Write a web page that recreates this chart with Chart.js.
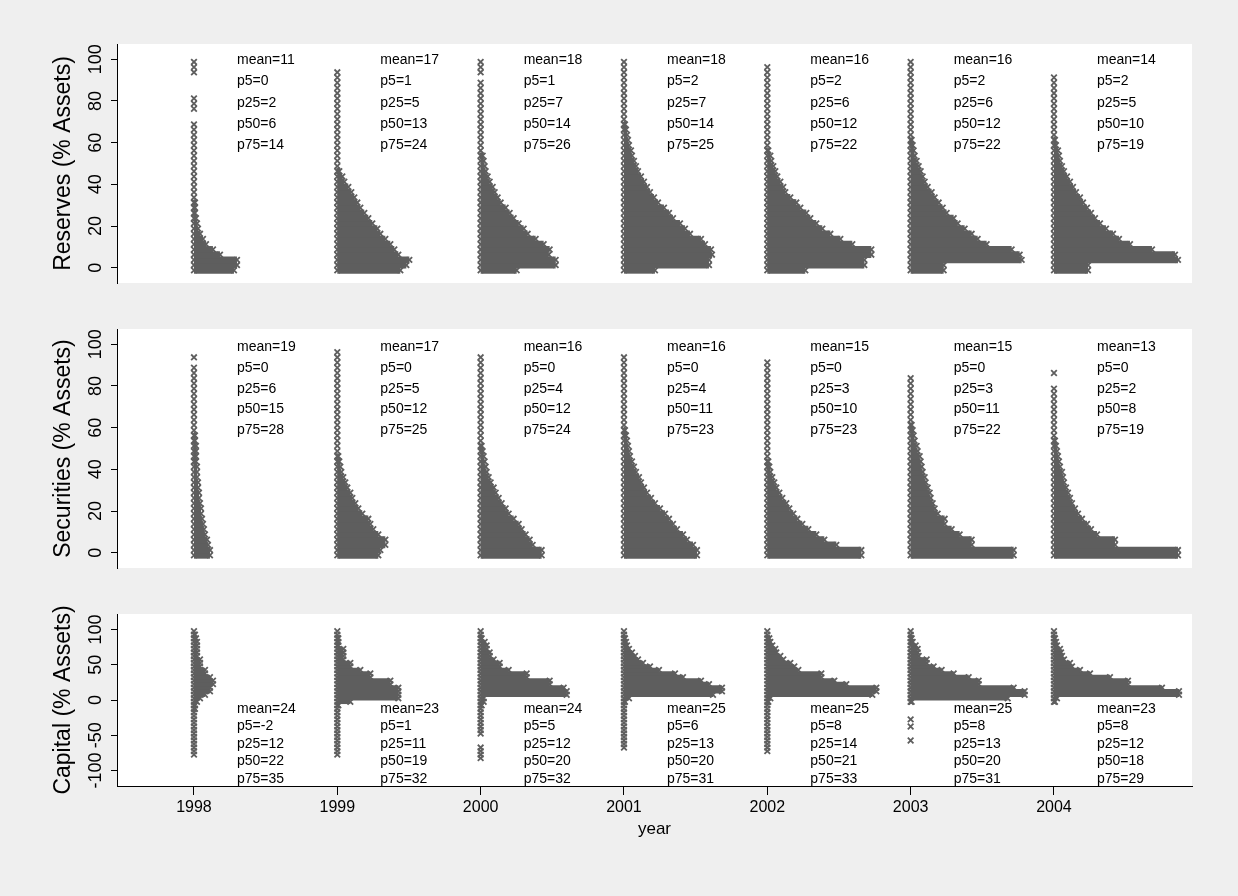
<!DOCTYPE html>
<html>
<head>
<meta charset="utf-8">
<script src="https://cdn.jsdelivr.net/npm/chart.js@4/dist/chart.umd.min.js"></script>
<style>
  body { margin: 0; background: #efefef; }
  canvas { position: absolute; left: 0; }
</style>
</head>
<body>
<canvas id="reserves" width="1238" height="300" style="top:0"></canvas>
<canvas id="securities" width="1238" height="285" style="top:300px"></canvas>
<canvas id="capital" width="1238" height="311" style="top:585px"></canvas>
<script>
const _ = null;

const years = [1998, 1999, 2000, 2001, 2002, 2003, 2004];

// bin centres (% of assets)
const pctBins = [-1.25, 1.25, 3.75, 6.25, 8.75, 11.25, 13.75, 16.25, 18.75, 21.25, 23.75, 26.25, 28.75, 31.25,
  33.75, 36.25, 38.75, 41.25, 43.75, 46.25, 48.75, 51.25, 53.75, 56.25, 58.75, 61.25, 63.75, 66.25, 68.75,
  71.25, 73.75, 76.25, 78.75, 81.25, 83.75, 86.25, 88.75, 91.25, 93.75, 96.25, 98.75];
const capBins = [-87.5, -82.5, -77.5, -72.5, -67.5, -62.5, -57.5, -52.5, -47.5, -42.5, -37.5, -32.5, -27.5,
  -22.5, -17.5, -12.5, -7.5, -2.5, 2.5, 7.5, 12.5, 17.5, 22.5, 27.5, 32.5, 37.5, 42.5, 47.5, 52.5, 57.5,
  62.5, 67.5, 72.5, 77.5, 82.5, 87.5, 92.5, 97.5];

const pctTicks = [0, 20, 40, 60, 80, 100];
const capTicks = [-100, -50, 0, 50, 100];

// dot widths per bin (1/143 of a year slot), null = empty bin
const reserves = [
  [43,46,46,29,22,15,12,9,7,6,5,4,4,4,3,3,3,3,3,3,2,2,2,2,2,2,2,2,2,_,_,2,2,2,_,_,_,_,2,2,2],
  [66,72,75,64,60,56,51,46,43,38,34,30,26,23,20,17,14,10,8,5,3,3,3,3,3,3,3,3,3,2,2,2,2,2,2,2,2,2,2,_,_],
  [39,78,78,71,72,66,58,50,46,41,36,32,28,23,20,17,15,12,10,8,7,6,5,3,3,3,3,3,3,3,2,2,2,2,2,2,2,_,2,2,2],
  [34,88,88,91,90,84,80,69,64,59,52,48,43,37,33,29,26,23,20,17,15,13,11,10,8,7,6,5,4,3,3,3,3,3,3,2,2,2,2,2,2],
  [41,100,100,107,107,88,76,66,58,52,46,42,36,32,26,21,19,16,13,11,9,7,6,4,3,3,3,3,3,3,3,3,2,2,2,2,2,2,2,2,_],
  [36,36,114,112,104,79,70,64,57,50,46,39,35,31,27,24,20,17,15,13,11,9,7,6,5,4,3,3,3,3,3,3,3,2,2,2,2,2,2,2,2],
  [37,37,127,124,101,79,68,62,55,49,44,40,36,32,29,25,22,19,16,13,11,9,8,7,5,4,3,3,3,3,3,3,2,2,2,2,2,2,_,_,_]
];
const securities = [
  [19,19,17,16,14,13,12,11,10,10,9,8,8,7,7,6,6,6,5,5,5,5,4,4,3,3,3,3,3,3,3,2,2,2,2,2,2,_,2,_,_],
  [44,46,51,51,44,39,36,34,28,24,21,18,16,13,11,9,7,6,5,4,3,3,3,3,3,3,3,3,3,3,2,2,2,2,2,2,2,2,2,2,_],
  [64,64,55,52,48,44,41,36,31,28,24,21,18,16,13,11,9,8,7,6,5,4,3,3,3,3,3,3,3,3,3,2,2,2,2,2,2,2,2,_,_],
  [76,76,72,66,62,56,52,48,44,39,34,30,26,23,20,18,15,13,11,9,8,7,6,5,4,3,3,3,3,3,3,3,2,2,2,2,2,2,2,_,_],
  [97,97,72,60,52,44,38,33,29,25,22,18,15,12,10,8,6,5,4,3,3,3,3,3,3,3,3,3,3,2,2,2,2,2,2,2,2,2,_,_,_],
  [106,106,64,64,52,44,37,37,30,27,25,23,22,20,18,17,15,14,13,12,10,9,7,6,5,4,3,3,3,3,3,2,2,2,2,_,_,_,_,_,_],
  [127,127,64,64,46,40,36,31,27,24,21,19,17,15,13,12,11,9,8,7,6,5,4,3,3,3,3,3,3,3,2,2,2,_,_,2,_,_,_,_,_]
];
const capital = [
  [_,_,2,2,2,2,2,2,2,3,3,3,3,3,3,4,4,6,9,14,19,19,22,22,19,14,14,9,9,9,6,6,6,6,6,5,4,3],
  [_,_,3,3,3,3,3,3,3,3,3,3,3,3,3,3,4,16,64,64,64,64,56,56,36,36,26,16,16,9,9,9,9,4,4,4,3,3],
  [_,2,2,2,2,_,_,_,2,2,2,2,2,3,3,3,4,6,6,89,89,86,72,72,49,49,31,22,22,16,12,12,9,9,7,4,3,3],
  [_,_,_,_,3,3,3,3,3,3,3,3,3,3,3,3,3,4,8,92,101,101,88,80,62,54,38,29,22,17,14,11,8,6,5,4,3,3],
  [_,_,_,3,3,3,3,3,3,3,3,3,3,3,3,3,3,4,6,108,112,112,82,70,57,57,34,30,26,19,16,12,11,8,6,5,3,3],
  [_,_,_,_,_,_,2,_,_,_,2,_,2,_,_,_,_,4,100,117,117,106,71,71,61,46,34,26,19,19,11,10,10,8,5,4,3,3],
  [_,_,_,_,_,_,_,_,_,_,_,_,_,_,_,_,_,4,6,128,128,111,77,77,59,39,29,21,19,13,11,10,9,6,5,4,3,3]
];

const resMean = [11, 17, 18, 18, 16, 16, 14];
const resP5 = [0, 1, 1, 2, 2, 2, 2];
const resP25 = [2, 5, 7, 7, 6, 6, 5];
const resP50 = [6, 13, 14, 14, 12, 12, 10];
const resP75 = [14, 24, 26, 25, 22, 22, 19];

const secMean = [19, 17, 16, 16, 15, 15, 13];
const secP5 = [0, 0, 0, 0, 0, 0, 0];
const secP25 = [6, 5, 4, 4, 3, 3, 2];
const secP50 = [15, 12, 12, 11, 10, 11, 8];
const secP75 = [28, 25, 24, 23, 23, 22, 19];

const capMean = [24, 23, 24, 25, 25, 25, 23];
const capP5 = [-2, 1, 5, 6, 8, 8, 8];
const capP25 = [12, 11, 12, 13, 14, 13, 12];
const capP50 = [22, 19, 20, 20, 21, 20, 18];
const capP75 = [35, 32, 32, 31, 33, 31, 29];

const FONT = '"Liberation Sans", Arial, Helvetica, sans-serif';
const gray = '#5e5e5e';
const xPerYear = 143.33;
const xMin = 1997.463, xMax = 2004.963;

Chart.defaults.font.family = FONT;
Chart.defaults.color = '#000';

// dot plot: markers stacked at the year, bar out to the last marker
function buildData(bins, widths) {
  const bars = [], marks = [];
  years.forEach((yr, i) => {
    widths[i].forEach((w, k) => {
      if (w === null) return;
      const y = bins[k];
      const end = yr + Math.max(w - 3, 0) / xPerYear;
      marks.push({ x: yr, y: y });
      if (end > yr) {
        bars.push({ x: [yr, end], y: y });
        marks.push({ x: end, y: y });
      }
    });
  });
  return { bars, marks };
}

const whitePlot = {
  id: 'whitePlot',
  beforeDraw(chart) {
    const { ctx, chartArea: a } = chart;
    ctx.save();
    ctx.fillStyle = '#fff';
    ctx.fillRect(a.left, a.top, a.right - a.left, a.bottom - a.top);
    ctx.restore();
  }
};

// vertical tick labels on the y axis
const yLabels = {
  id: 'yLabels',
  afterDraw(chart) {
    const s = chart.scales.y, ctx = chart.ctx;
    ctx.save();
    ctx.font = '18px ' + FONT;
    ctx.fillStyle = '#000';
    ctx.textAlign = 'center';
    ctx.textBaseline = 'middle';
    s.ticks.forEach(t => {
      ctx.save();
      ctx.translate(s.right - 21, s.getPixelForValue(t.value));
      ctx.rotate(-Math.PI / 2);
      ctx.fillText(String(t.value), 0, 0);
      ctx.restore();
    });
    ctx.restore();
  }
};

const stats = {
  id: 'stats',
  afterDatasetsDraw(chart, args, opts) {
    const { ctx, scales: { x, y } } = chart;
    ctx.save();
    ctx.font = '14px ' + FONT;
    ctx.fillStyle = '#000';
    ctx.textAlign = 'left';
    ctx.textBaseline = 'middle';
    opts.rows.forEach((row, r) => {
      years.forEach((yr, i) => {
        ctx.fillText(row[0] + '=' + row[1][i], x.getPixelForValue(yr + 0.3), y.getPixelForValue(opts.pos[r]));
      });
    });
    ctx.restore();
  }
};

function makePanel(id, cfg) {
  const { bars, marks } = buildData(cfg.bins, cfg.widths);
  const xAxis = cfg.showX ? {
    min: xMin, max: xMax, offset: false,
    afterBuildTicks: s => { s.ticks = years.map(v => ({ value: v })); },
    afterFit: s => { s.height = 60; },
    ticks: { font: { size: 16 }, color: '#000', padding: 3, maxRotation: 0, callback: v => String(v) },
    grid: { drawOnChartArea: false, tickLength: 9, color: '#000', offset: false },
    border: { color: '#000' },
    title: { display: true, text: 'year', font: { size: 17 }, color: '#000', padding: { top: 0, bottom: 6 } }
  } : { display: false, min: xMin, max: xMax, offset: false };

  return new Chart(document.getElementById(id), {
    type: 'scatter',
    data: {
      datasets: [
        {
          type: 'bar',
          indexAxis: 'y',
          data: bars,
          backgroundColor: gray,
          borderWidth: 0,
          barPercentage: 1.3,
          categoryPercentage: 1
        },
        {
          type: 'scatter',
          data: marks,
          pointStyle: 'crossRot',
          radius: 4,
          hoverRadius: 4,
          borderColor: gray,
          borderWidth: 1.8
        }
      ]
    },
    options: {
      responsive: false,
      animation: false,
      events: [],
      layout: { padding: cfg.padding },
      plugins: {
        legend: { display: false },
        tooltip: { enabled: false },
        stats: { rows: cfg.rows, pos: cfg.textPos }
      },
      scales: {
        x: xAxis,
        y: {
          type: 'linear',
          min: cfg.yMin, max: cfg.yMax,
          offset: false,
          afterBuildTicks: s => { s.ticks = cfg.ticks.map(v => ({ value: v })); },
          afterFit: s => { s.width = 117; },
          ticks: { display: false },
          grid: { drawOnChartArea: false, tickLength: 6, color: '#000', offset: false },
          border: { color: '#000' },
          title: { display: true, text: cfg.title, font: { size: 23 }, color: '#000', padding: { top: 50, bottom: 0 } }
        }
      }
    },
    plugins: [whitePlot, yLabels, stats]
  });
}

makePanel('reserves', {
  title: 'Reserves (% Assets)',
  bins: pctBins, widths: reserves, ticks: pctTicks,
  yMin: -7.35, yMax: 107.35,
  padding: { top: 44, right: 46, bottom: 17, left: 0 },
  rows: [['mean', resMean], ['p5', resP5], ['p25', resP25], ['p50', resP50], ['p75', resP75]],
  textPos: [99.5, 89.3, 79.1, 68.9, 58.7]
});

makePanel('securities', {
  title: 'Securities (% Assets)',
  bins: pctBins, widths: securities, ticks: pctTicks,
  yMin: -7.35, yMax: 107.35,
  padding: { top: 29, right: 46, bottom: 17, left: 0 },
  rows: [['mean', secMean], ['p5', secP5], ['p25', secP25], ['p50', secP50], ['p75', secP75]],
  textPos: [98.5, 88.6, 78.7, 68.8, 58.9]
});

makePanel('capital', {
  title: 'Capital (% Assets)',
  bins: capBins, widths: capital, ticks: capTicks,
  yMin: -122, yMax: 122,
  showX: true,
  padding: { top: 29, right: 46, bottom: 50, left: 0 },
  rows: [['mean', capMean], ['p5', capP5], ['p25', capP25], ['p50', capP50], ['p75', capP75]],
  textPos: [-13, -37.5, -62.5, -87, -112]
});
</script>
</body>
</html>
